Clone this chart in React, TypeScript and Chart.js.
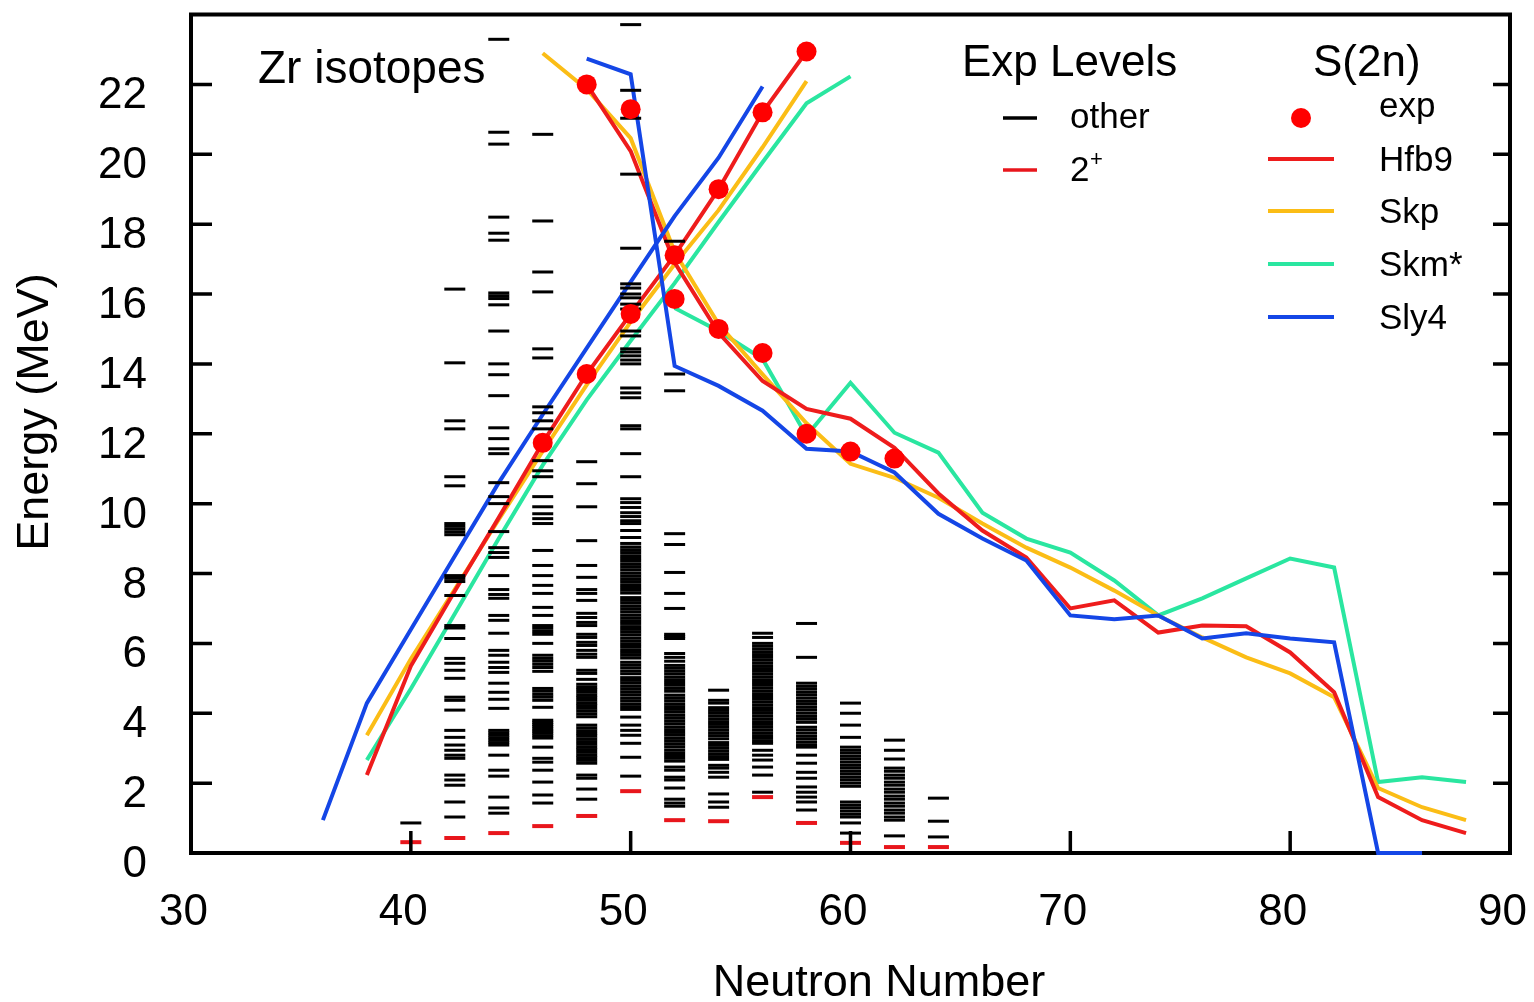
import React, { useEffect, useRef } from 'react';
import { Chart, registerables } from 'chart.js';

Chart.register(...registerables);

const FONT = "'Liberation Sans', Arial, Helvetica, sans-serif";

// ---------- axis ticks ----------
const xTickValues = [40, 50, 60, 70, 80];
const xLabelValues = [30, 40, 50, 60, 70, 80, 90];
const yTickValues = [2, 4, 6, 8, 10, 12, 14, 16, 18, 20, 22];
const yLabelValues = [0, 2, 4, 6, 8, 10, 12, 14, 16, 18, 20, 22];

// ---------- S(2n) experimental points ----------
const expRiseN = [46, 48, 50, 52, 54, 56, 58];
const expRiseE = [11.74, 13.71, 15.43, 17.11, 19.0, 21.2, 22.94];
const expFallN = [48, 50, 52, 54, 56, 58, 60, 62];
const expFallE = [22.0, 21.29, 15.86, 15.0, 14.31, 12.0, 11.49, 11.29];

// ---------- model curves ----------
const hfb9RiseN = [38, 40, 42, 44, 46, 48, 50, 52, 54, 56, 58];
const hfb9RiseE = [2.23, 5.35, 7.5, 9.6, 11.74, 13.71, 15.43, 17.11, 19.0, 21.2, 22.94];
const hfb9FallN = [48, 50, 52, 54, 56, 58, 60, 62, 64, 66, 68, 70, 72, 74, 76, 78, 80, 82, 84, 86, 88];
const hfb9FallE = [22.0, 20.09, 16.9, 14.89, 13.51, 12.71, 12.43, 11.6, 10.29, 9.23, 8.46, 7.0, 7.23, 6.31, 6.51, 6.49, 5.74, 4.6, 1.6, 0.94, 0.57];

const skpRiseN = [38, 40, 42, 44, 46, 48, 50, 52, 54, 56, 58];
const skpRiseE = [3.37, 5.55, 7.55, 9.55, 11.5, 13.4, 15.2, 16.85, 18.4, 20.2, 22.09];
const skpFallN = [46, 48, 50, 52, 54, 56, 58, 60, 62, 64, 66, 68, 70, 72, 74, 76, 78, 80, 82, 84, 86, 88];
const skpFallE = [22.89, 21.86, 20.46, 17.2, 15.14, 13.7, 12.3, 11.14, 10.74, 10.17, 9.43, 8.74, 8.17, 7.51, 6.8, 6.17, 5.6, 5.14, 4.46, 1.86, 1.31, 0.94];

const skmRiseN = [38, 40, 42, 44, 46, 48, 50, 52, 54, 56, 58, 60];
const skmRiseE = [2.66, 4.7, 6.85, 9.0, 11.1, 12.97, 14.66, 16.31, 18.06, 19.77, 21.46, 22.23];
const skmFallN = [52, 54, 56, 58, 60, 62, 64, 66, 68, 70, 72, 74, 76, 78, 80, 82, 84, 86, 88];
const skmFallE = [15.6, 14.94, 14.14, 11.94, 13.46, 12.03, 11.46, 9.74, 9.0, 8.6, 7.8, 6.8, 7.29, 7.86, 8.43, 8.17, 2.03, 2.17, 2.03];

const sly4RiseN = [36, 38, 40, 42, 44, 46, 48, 50, 52, 54, 56];
const sly4RiseE = [0.94, 4.29, 6.4, 8.5, 10.6, 12.55, 14.45, 16.35, 18.23, 19.9, 21.94];
const sly4FallN = [48, 50, 52, 54, 56, 58, 60, 62, 64, 66, 68, 70, 72, 74, 76, 78, 80, 82, 84, 86];
const sly4FallE = [22.74, 22.29, 13.94, 13.37, 12.66, 11.57, 11.49, 10.89, 9.71, 9.0, 8.37, 6.8, 6.69, 6.8, 6.14, 6.29, 6.14, 6.03, 0, 0];

// ---------- experimental levels ----------
const isotopeN = [40, 42, 44, 46, 48, 50, 52, 54, 56, 58, 60, 62, 64];
const twoPlusE = [0.31, 0.43, 0.57, 0.77, 1.06, 1.77, 0.94, 0.91, 1.6, 0.86, 0.29, 0.17, 0.17];

const lev40 = [0.86];
const lev42 = [16.14, 14.03, 12.37, 12.14, 10.77, 10.51, 9.43, 9.35, 9.27, 9.19, 9.11, 7.94, 7.86, 7.77, 7.37, 6.51, 6.44,
  6.14, 5.57, 5.43, 5.23, 5.0, 4.46, 4.37, 4.09, 3.51, 3.31, 3.09, 2.94, 2.8, 2.71, 2.23, 2.09, 1.94, 1.46, 1.03];
const lev44 = [23.29, 20.63, 20.29, 18.2, 17.74, 17.54, 16.03, 15.95, 15.87, 15.69, 14.94, 14.0, 13.69, 13.09, 12.17, 11.86,
  11.57, 11.43, 10.6, 10.2, 10.0, 9.2, 8.74, 8.6, 8.46, 7.94, 7.54, 7.4, 7.29, 6.8, 6.66, 6.29, 5.8, 5.66, 5.46, 5.31, 5.17,
  4.86, 4.6, 4.4, 4.14, 3.51, 3.44, 3.37, 3.3, 3.23, 3.16, 3.09, 2.8, 2.37, 2.2, 1.6, 1.29, 1.14];
const lev46 = [20.57, 18.09, 16.63, 16.06, 14.43, 14.17, 12.77, 12.6, 12.37, 12.14, 11.23, 10.94, 10.77, 10.2, 9.91, 9.71,
  9.57, 9.43, 8.66, 8.23, 7.94, 7.66, 7.43, 7.03, 6.8, 6.51, 6.43, 6.34, 6.26, 6.0, 5.66, 5.57, 5.49, 5.4, 5.31, 5.2,
  4.71, 4.63, 4.54, 4.46, 4.37, 4.17, 3.8, 3.74, 3.68, 3.62, 3.55, 3.49, 3.43, 3.36, 3.29, 3.03, 2.71, 2.6, 2.37, 2.03,
  1.66, 1.43];
const lev48 = [11.2, 10.57, 9.91, 8.94, 8.23, 7.89, 7.54, 7.43, 7.23, 6.86, 6.74, 6.6, 6.51, 6.26, 6.17, 6.03, 5.94, 5.8,
  5.69, 5.6, 5.23, 5.14, 4.97, 4.83, 4.75, 4.68, 4.6, 4.52, 4.45, 4.37, 4.29, 4.22, 4.14, 4.06, 3.98, 3.9, 3.66, 3.58,
  3.5, 3.42, 3.35, 3.27, 3.19, 3.11, 3.03, 2.96, 2.88, 2.8, 2.73, 2.65, 2.57, 2.23, 2.14, 1.83, 1.54];
const lev50 = [23.71, 21.83, 21.03, 19.43, 17.31, 16.29, 16.17, 16.0, 15.89, 15.71, 15.57, 14.94, 14.8, 14.43, 14.34,
  14.23, 14.11, 14.0, 13.31, 13.17, 13.03, 12.23, 12.14, 11.43, 10.77, 10.14, 10.03, 9.89, 9.74, 9.63, 9.51, 9.43, 9.23,
  9.03, 8.86, 8.76, 8.68, 8.6, 8.51, 8.43, 8.35, 8.26, 8.18, 8.1, 8.01, 7.93, 7.85, 7.77, 7.68, 7.6, 7.52, 7.44, 7.31,
  7.23, 7.15, 7.06, 6.98, 6.9, 6.81, 6.73, 6.65, 6.57, 6.48, 6.4, 6.32, 6.24, 6.15, 6.07, 5.99, 5.91, 5.82, 5.74, 5.66,
  5.58, 5.46, 5.38, 5.3, 5.21, 5.13, 5.02, 4.94, 4.86, 4.77, 4.69, 4.61, 4.53, 4.44, 4.36, 4.27, 4.19, 4.11, 3.89, 3.66,
  3.51, 3.37, 3.14, 2.74, 2.2];
const lev52 = [17.51, 13.71, 13.23, 9.14, 8.83, 8.03, 7.43, 7.0, 6.26, 6.2, 6.14, 5.71, 5.6, 5.49, 5.37, 5.29, 5.21, 5.13,
  5.04, 4.96, 4.88, 4.8, 4.71, 4.63, 4.52, 4.44, 4.36, 4.27, 4.19, 4.11, 4.03, 3.94, 3.86, 3.78, 3.7, 3.61, 3.53, 3.45,
  3.37, 3.28, 3.2, 3.12, 3.04, 2.95, 2.87, 2.79, 2.71, 2.63, 2.46, 2.37, 2.17, 2.09, 1.86, 1.54, 1.43, 1.34];
const lev54 = [4.66, 4.37, 4.29, 4.16, 4.08, 4.0, 3.92, 3.84, 3.76, 3.68, 3.6, 3.52, 3.44, 3.36, 3.27, 3.16, 3.08, 3.0,
  2.92, 2.84, 2.76, 2.68, 2.51, 2.43, 2.31, 2.17, 1.69, 1.46, 1.31];
const lev56 = [6.29, 6.17, 6.0, 5.92, 5.84, 5.76, 5.68, 5.6, 5.52, 5.44, 5.36, 5.28, 5.2, 5.12, 5.04, 4.96, 4.88, 4.8,
  4.72, 4.64, 4.56, 4.48, 4.4, 4.32, 4.24, 4.16, 4.08, 4.0, 3.92, 3.84, 3.76, 3.68, 3.6, 3.52, 3.44, 3.36, 3.28, 3.2,
  3.14, 2.94, 2.8, 2.66, 2.46, 2.23, 1.74];
const lev58 = [6.57, 5.6, 4.86, 4.77, 4.69, 4.6, 4.52, 4.43, 4.34, 4.26, 4.17, 4.09, 4.0, 3.91, 3.83, 3.74, 3.6, 3.52,
  3.43, 3.34, 3.26, 3.17, 3.09, 3.03, 2.8, 2.57, 2.31, 2.14, 1.89, 1.74, 1.6, 1.46, 1.23];
const lev60 = [4.29, 4.0, 3.66, 3.31, 3.03, 2.94, 2.86, 2.77, 2.69, 2.6, 2.51, 2.43, 2.34, 2.26, 2.17, 2.09, 2.0, 1.91,
  1.46, 1.37, 1.29, 1.2, 1.11, 1.03, 0.86, 0.57];
const lev62 = [3.23, 2.94, 2.69, 2.43, 2.34, 2.23, 2.14, 2.03, 1.94, 1.83, 1.74, 1.63, 1.54, 1.43, 1.34, 1.23, 1.14,
  1.03, 0.94, 0.49];
const lev64 = [1.57, 0.91, 0.46];

const levelsOther = [lev40, lev42, lev44, lev46, lev48, lev50, lev52, lev54, lev56, lev58, lev60, lev62, lev64];

// ---------- colours ----------
const C_RED = '#ee1c1c';
const C_SKP = '#fbbd16';
const C_SKM = '#2ae6a0';
const C_SLY = '#1446e6';
const C_DOT = '#ff0000';
const C_2P = '#e8161c';

const xy = (ns: number[], es: number[]) => ns.map((n, i) => ({ x: n, y: es[i] }));

function lineDs(ns: number[], es: number[], color: string, order: number) {
  return {
    data: xy(ns, es),
    showLine: true,
    borderColor: color,
    backgroundColor: color,
    borderWidth: 4,
    pointRadius: 0,
    pointHoverRadius: 0,
    tension: 0,
    order,
    clip: false as any,
  };
}

function text(ctx: CanvasRenderingContext2D, s: string, x: number, y: number, size: number,
  align: CanvasTextAlign = 'left', baseline: CanvasTextBaseline = 'alphabetic') {
  ctx.font = `${size}px ${FONT}`;
  ctx.fillStyle = '#000';
  ctx.textAlign = align;
  ctx.textBaseline = baseline;
  ctx.fillText(s, x, y);
}

const decorPlugin = {
  id: 'decor',
  beforeDatasetsDraw(chart: any) {
    const { ctx, chartArea: a } = chart;
    ctx.save();
    ctx.strokeStyle = '#000';
    ctx.lineWidth = 4;
    ctx.strokeRect(a.left, a.top, a.right - a.left, a.bottom - a.top);
    ctx.restore();
  },
  afterDatasetsDraw(chart: any) {
    const { ctx, chartArea: a, scales } = chart;
    ctx.save();
    ctx.strokeStyle = '#000';
    ctx.lineWidth = 3.5;
    ctx.beginPath();
    for (const v of xTickValues) {
      const px = scales.x.getPixelForValue(v);
      ctx.moveTo(px, a.bottom);
      ctx.lineTo(px, a.bottom - 22);
    }
    for (const v of yTickValues) {
      const py = scales.y.getPixelForValue(v);
      ctx.moveTo(a.left, py);
      ctx.lineTo(a.left + 21, py);
      ctx.moveTo(a.right, py);
      ctx.lineTo(a.right - 17, py);
    }
    ctx.stroke();
    ctx.restore();
  },
  afterDraw(chart: any) {
    const { ctx, chartArea: a, scales } = chart;
    ctx.save();
    // tick labels
    for (const v of xLabelValues) {
      const px = scales.x.getPixelForValue(v);
      text(ctx, String(v), px - 7.5, a.bottom + 72, 44, 'center');
    }
    for (const v of yLabelValues) {
      const py = scales.y.getPixelForValue(v);
      text(ctx, String(v), a.left - 44, py + 24, 44, 'right');
    }
    // axis titles
    text(ctx, 'Neutron Number', 879, 996, 45, 'center');
    ctx.save();
    ctx.translate(48, 412);
    ctx.rotate(-Math.PI / 2);
    text(ctx, 'Energy (MeV)', 0, 0, 45, 'center');
    ctx.restore();
    // annotation
    text(ctx, 'Zr isotopes', 258, 83, 46);
    // legend: Exp Levels
    text(ctx, 'Exp Levels', 962, 76, 44);
    ctx.lineWidth = 3.5;
    ctx.strokeStyle = '#000';
    ctx.beginPath(); ctx.moveTo(1003, 118); ctx.lineTo(1037, 118); ctx.stroke();
    text(ctx, 'other', 1070, 128, 35);
    ctx.strokeStyle = C_2P;
    ctx.beginPath(); ctx.moveTo(1003, 170); ctx.lineTo(1037, 170); ctx.stroke();
    text(ctx, '2', 1070, 181, 35);
    text(ctx, '+', 1090, 166, 22);
    // legend: S(2n)
    text(ctx, 'S(2n)', 1313, 76, 44);
    ctx.fillStyle = C_DOT;
    ctx.beginPath(); ctx.arc(1301, 118, 10, 0, Math.PI * 2); ctx.fill();
    text(ctx, 'exp', 1379, 117, 35);
    const items: [string, string, number][] = [
      ['Hfb9', C_RED, 159], ['Skp', C_SKP, 211], ['Skm*', C_SKM, 264], ['Sly4', C_SLY, 317],
    ];
    for (const [label, color, y] of items) {
      ctx.strokeStyle = color;
      ctx.lineWidth = 4;
      ctx.beginPath(); ctx.moveTo(1268, y); ctx.lineTo(1334, y); ctx.stroke();
      text(ctx, label, 1379, y + 12, 35);
    }
    ctx.restore();
  },
};

export default function App() {
  const ref = useRef<HTMLCanvasElement | null>(null);
  useEffect(() => {
    if (!ref.current) return;
    const levelPts = isotopeN.flatMap((n, i) => levelsOther[i].map((e) => ({ x: n, y: e })));
    const twoPlusPts = xy(isotopeN, twoPlusE);
    const datasets: any[] = [
      {
        data: [...xy(expRiseN, expRiseE), ...xy(expFallN, expFallE)],
        pointRadius: 10, pointHoverRadius: 10, pointStyle: 'circle',
        pointBackgroundColor: C_DOT, pointBorderColor: C_DOT, pointBorderWidth: 0,
        showLine: false, order: 0, clip: false,
      },
      {
        data: twoPlusPts, pointStyle: 'line', pointRadius: 10.5, pointHoverRadius: 10.5,
        pointBorderColor: C_2P, pointBackgroundColor: C_2P, pointBorderWidth: 4, showLine: false, order: 1, clip: false,
      },
      {
        data: levelPts, pointStyle: 'line', pointRadius: 10.5, pointHoverRadius: 10.5,
        pointBorderColor: '#000', pointBackgroundColor: '#000', pointBorderWidth: 3, showLine: false, order: 1, clip: false,
      },
      lineDs(sly4RiseN, sly4RiseE, C_SLY, 2),
      lineDs(sly4FallN, sly4FallE, C_SLY, 2),
      lineDs(hfb9RiseN, hfb9RiseE, C_RED, 3),
      lineDs(hfb9FallN, hfb9FallE, C_RED, 3),
      lineDs(skpRiseN, skpRiseE, C_SKP, 4),
      lineDs(skpFallN, skpFallE, C_SKP, 4),
      lineDs(skmRiseN, skmRiseE, C_SKM, 5),
      lineDs(skmFallN, skmFallE, C_SKM, 5),
    ];
    const chart = new Chart(ref.current, {
      type: 'scatter',
      data: { datasets },
      options: {
        animation: false,
        responsive: false,
        devicePixelRatio: 1,
        events: [],
        layout: { padding: { top: 13, right: 24, left: 0, bottom: 0 } },
        plugins: { legend: { display: false }, tooltip: { enabled: false } },
        scales: {
          x: {
            type: 'linear', min: 30, max: 90, position: 'bottom',
            grid: { display: false, drawTicks: false },
            border: { display: false },
            ticks: { display: false, stepSize: 10 },
            afterFit: (s: any) => { s.height = 149; },
          },
          y: {
            type: 'linear', min: 0, max: 24, position: 'left',
            grid: { display: false, drawTicks: false },
            border: { display: false },
            ticks: { display: false, stepSize: 2 },
            afterFit: (s: any) => { s.width = 191; },
          },
        },
      } as any,
      plugins: [decorPlugin],
    });
    return () => chart.destroy();
  }, []);
  return (
    <div style={{ position: 'absolute', left: 0, top: 0, width: 1534, height: 1002, background: '#fff' }}>
      <canvas ref={ref} width={1534} height={1002} style={{ width: 1534, height: 1002, display: 'block' }} />
    </div>
  );
}
